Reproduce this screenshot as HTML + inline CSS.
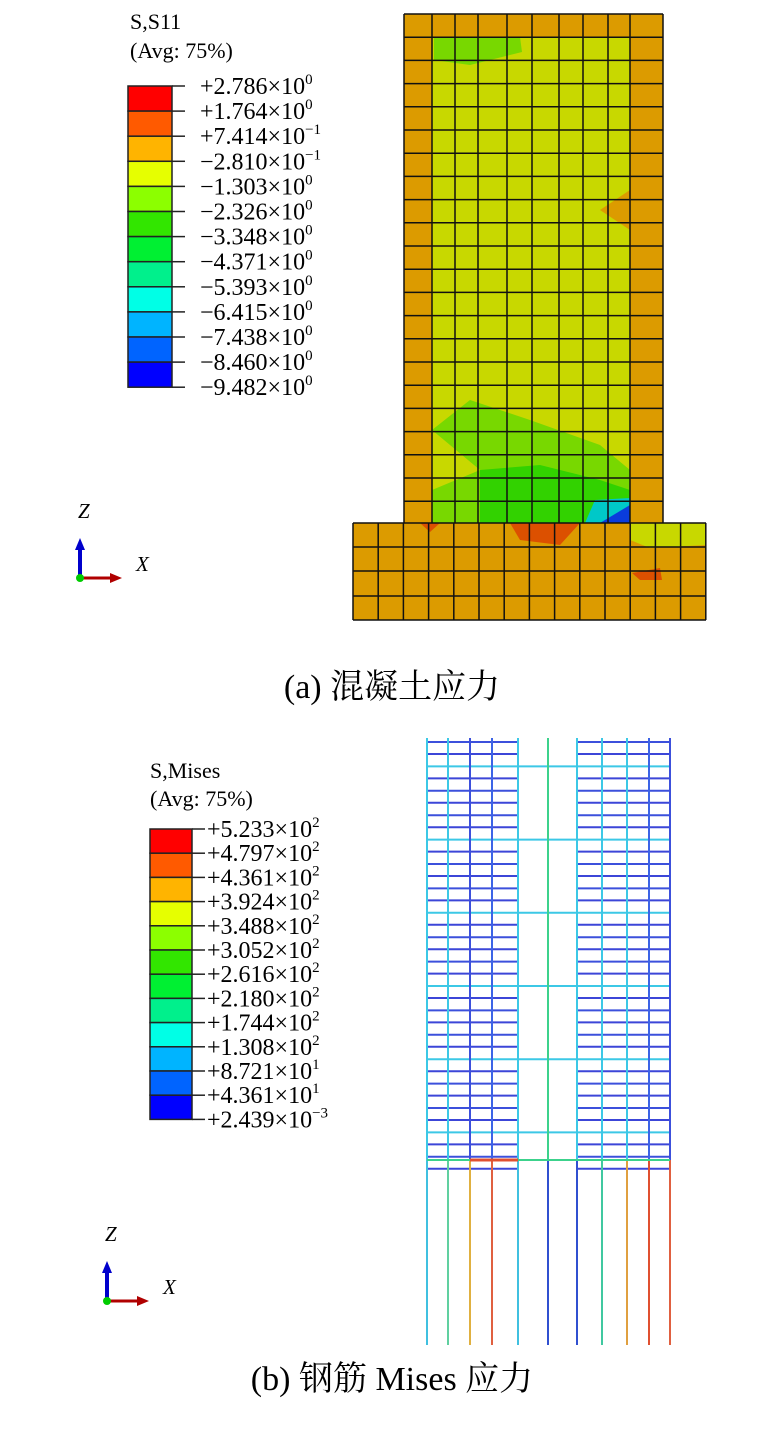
<!DOCTYPE html>
<html><head><meta charset="utf-8"><style>
body{margin:0;background:#fff;width:764px;height:1430px;overflow:hidden;font-family:"Liberation Serif","Noto Serif CJK SC",serif;}
svg{position:absolute;left:0;top:0}
</style></head><body>
<svg id="s" width="764" height="1430" xmlns="http://www.w3.org/2000/svg" font-family="Liberation Serif, Noto Serif CJK SC, serif">
<text x="130" y="29" font-size="22">S,S11</text>
<text x="130" y="58" font-size="22">(Avg: 75%)</text>
<text x="150" y="778" font-size="22">S,Mises</text>
<text x="150" y="806" font-size="22">(Avg: 75%)</text>
<text x="392" y="698" font-size="34" text-anchor="middle">(a)  混凝土应力</text>
<text x="392" y="1390" font-size="34" text-anchor="middle">(b)  钢筋 Mises 应力</text>
<g id="g"></g>
</svg>
<script>
const g=document.getElementById('g');let h='';
const cols=['#ff0000','#ff5a00','#ffb400','#e6ff00','#8cff00','#32e600','#00f032','#00f08c','#00ffe6','#00b4ff','#0064ff','#0000ff'];
function legend(x,y,w,step,tx,labels){
 for(let i=0;i<12;i++)h+=`<rect x="${x}" y="${y+i*step}" width="${w}" height="${step}" fill="${cols[i]}" stroke="#222" stroke-width="1.5"/>`;
 for(let i=0;i<=12;i++){let yy=y+i*step;h+=`<line x1="${x+w}" y1="${yy}" x2="${x+w+13}" y2="${yy}" stroke="#222" stroke-width="1.5"/>`;
 let l=labels[i];h+=`<text x="${tx}" y="${yy+8}" font-size="24">${l[0]}×10<tspan dy="-10" font-size="15">${l[1]}</tspan></text>`;}
}
legend(128,86,44,25.1,200,[['+2.786','0'],['+1.764','0'],['+7.414','−1'],['−2.810','−1'],['−1.303','0'],['−2.326','0'],['−3.348','0'],['−4.371','0'],['−5.393','0'],['−6.415','0'],['−7.438','0'],['−8.460','0'],['−9.482','0']]);
legend(150,829,42,24.2,207,[['+5.233','2'],['+4.797','2'],['+4.361','2'],['+3.924','2'],['+3.488','2'],['+3.052','2'],['+2.616','2'],['+2.180','2'],['+1.744','2'],['+1.308','2'],['+8.721','1'],['+4.361','1'],['+2.439','−3']]);
// concrete
const OR='#dc9b00',YE='#c8d800',GR='#78d800';
h+=`<rect x="404" y="14" width="259" height="509" fill="${OR}"/>`;
h+=`<rect x="432" y="37" width="198" height="486" fill="${YE}"/>`;
h+=`<polygon points="434,37 520,37 522,52 470,65 434,60" fill="${GR}"/>`;
h+=`<polygon points="432,430 470,400 530,420 600,445 630,470 630,523 432,523 432,490 480,470" fill="${GR}"/>`;
h+=`<polygon points="480,470 540,465 600,480 630,490 630,523 480,523" fill="#32d200"/>`;
h+=`<polygon points="585,523 595,500 630,498 630,523" fill="#00c8c8"/>`;
h+=`<polygon points="600,523 630,505 630,523" fill="#0a3cdc"/>`;
h+=`<polygon points="630,190 600,210 630,230" fill="${OR}"/><polygon points="630,540 640,555 630,560" fill="${OR}"/>`;
h+=`<rect x="353" y="523" width="353" height="97" fill="${OR}"/>`;
h+=`<polygon points="630,523 706,523 706,545 650,548 630,540" fill="${YE}"/>`;
h+=`<polygon points="510,523 580,523 560,545 520,540" fill="#dc5000"/><polygon points="420,523 440,523 430,532" fill="#dc5000"/><polygon points="632,573 660,568 662,580 640,580" fill="#dc5000"/>`;
let L='';
for(let x of [404,432,455,478,507,532,559,583,608,630,663])L+=`M${x} 14V523`;
for(let y=14;y<=523;y+=23.2)L+=`M404 ${y.toFixed(1)}H663`;
for(let i=0;i<=14;i++){let x=353+i*25.2;L+=`M${x.toFixed(1)} 523V620`;}
for(let y of [523,547,571,596,620])L+=`M353 ${y}H706`;
h+=`<path d="${L}" stroke="#111" stroke-width="1.5" fill="none"/>`;
// rebar
const vx=[427,448,470,492,518,548,577,602,627,649,670];
const vc=['#3cc8e6','#3cc8e6','#3c50dc','#3c64e6','#3cc8e6','#3cd28c','#3cc8e6','#3cc8e6','#3cc8e6','#3c64e6','#3c50dc'];
const bc=['#40c0e0','#60d0a0','#e0b040','#e06040','#40c0e0','#3050d0','#3050d0','#40c8a0','#e0a040','#e05030','#e06040'];
for(let k=0;k<18;k++){let y=742+k*24.4;
 if(k%3==1)h+=`<line x1="427" y1="${y}" x2="670" y2="${y}" stroke="#3cc8e6" stroke-width="2"/>`;
 else{h+=`<line x1="427" y1="${y}" x2="518" y2="${y}" stroke="#3c50dc" stroke-width="2"/><line x1="577" y1="${y}" x2="670" y2="${y}" stroke="#3c50dc" stroke-width="2"/>`;}
 h+=`<line x1="427" y1="${y+12}" x2="518" y2="${y+12}" stroke="#3c46d8" stroke-width="2"/><line x1="577" y1="${y+12}" x2="670" y2="${y+12}" stroke="#3c46d8" stroke-width="2"/>`;}
vx.forEach((x,i)=>{h+=`<line x1="${x}" y1="738" x2="${x}" y2="1160" stroke="${vc[i]}" stroke-width="2"/><line x1="${x}" y1="1160" x2="${x}" y2="1345" stroke="${bc[i]}" stroke-width="2"/>`;});
h+=`<line x1="427" y1="1160" x2="670" y2="1160" stroke="#3cd28c" stroke-width="2"/><line x1="470" y1="1160" x2="518" y2="1160" stroke="#e05030" stroke-width="3"/>`;
// axes
function ax(x,y){h+=`<text x="${x-2}" y="${y-60}" font-size="21" font-style="italic">Z</text><text x="${x+56}" y="${y-7}" font-size="21" font-style="italic">X</text>
<line x1="${x}" y1="${y}" x2="${x}" y2="${y-30}" stroke="#0000cc" stroke-width="4"/><polygon points="${x-5},${y-28} ${x+5},${y-28} ${x},${y-40}" fill="#0000cc"/>
<line x1="${x}" y1="${y}" x2="${x+32}" y2="${y}" stroke="#b00000" stroke-width="3"/><polygon points="${x+30},${y-5} ${x+30},${y+5} ${x+42},${y}" fill="#b00000"/><circle cx="${x}" cy="${y}" r="4" fill="#00cc00"/>`;}
ax(80,578);ax(107,1301);
g.innerHTML=h;
</script>
</body></html>
